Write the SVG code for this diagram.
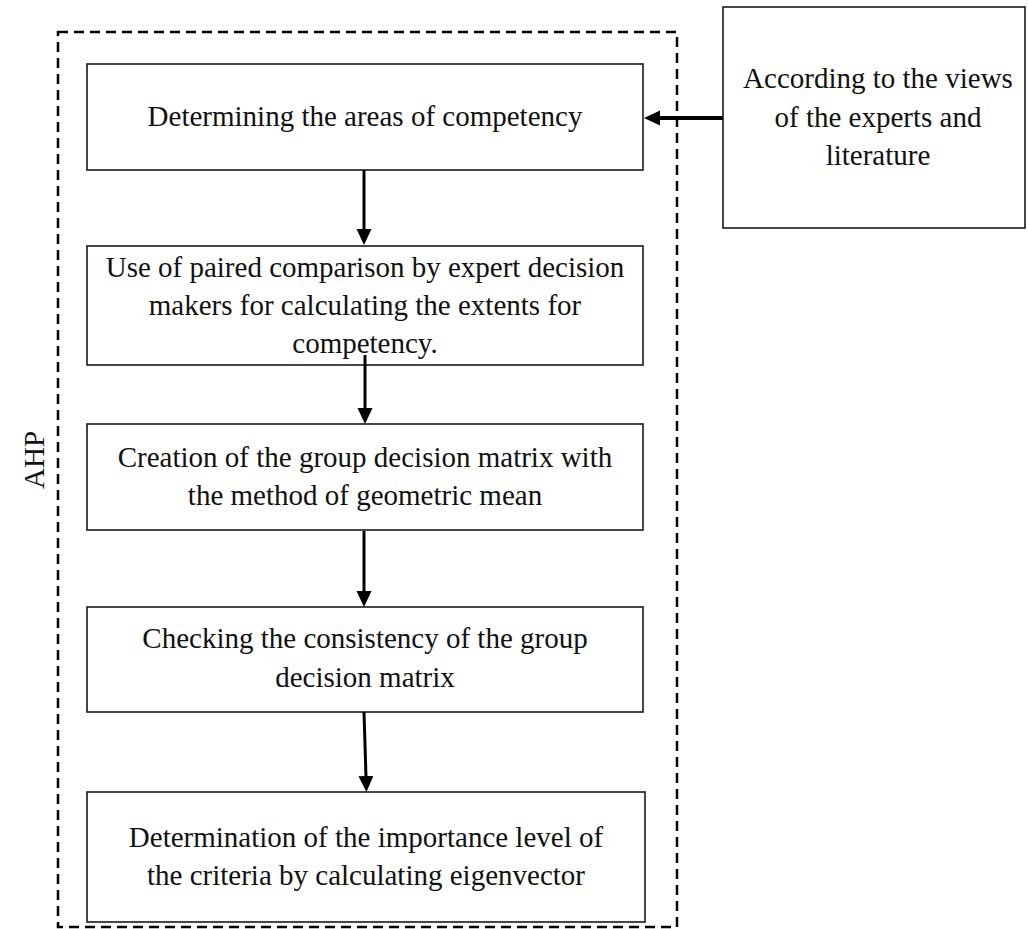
<svg xmlns="http://www.w3.org/2000/svg" width="1028" height="929" viewBox="0 0 1028 929">
<style>
.box{fill:#fff;stroke:#1a1a1a;stroke-width:1.6}
.t{font-family:"Liberation Serif","Times New Roman",serif;font-size:29px;fill:#111;text-anchor:middle}
.c{stroke:#000;stroke-width:3;fill:none}
.dash{fill:none;stroke:#000;stroke-width:2.5;stroke-dasharray:10 6}
</style>
<defs>
<marker id="ah" markerUnits="userSpaceOnUse" markerWidth="17" markerHeight="16" refX="1" refY="7.5" orient="auto">
<path d="M0,0 L16,7.5 L0,15 z" fill="#000"/>
</marker>
</defs>
<rect width="1028" height="929" fill="#fff"/>
<g id="ahp-group">
<rect class="dash" x="58" y="32" width="619" height="895"/>
<text class="t" transform="translate(44,460) rotate(-90)">AHP</text>
</g>
<g id="n1">
<rect class="box" x="87" y="64" width="556" height="106"/>
<text class="t" x="365" y="126">Determining the areas of competency</text>
</g>
<g id="n2">
<rect class="box" x="87" y="246" width="556" height="119"/>
<text class="t" x="365" y="277">Use of paired comparison by expert decision</text>
<text class="t" x="365" y="315">makers for calculating the extents for</text>
<text class="t" x="365" y="353">competency.</text>
</g>
<g id="n3">
<rect class="box" x="87" y="424" width="556" height="106"/>
<text class="t" x="365" y="467">Creation of the group decision matrix with</text>
<text class="t" x="365" y="505">the method of geometric mean</text>
</g>
<g id="n4">
<rect class="box" x="87" y="607" width="556" height="105"/>
<text class="t" x="365" y="648">Checking the consistency of the group</text>
<text class="t" x="365" y="687">decision matrix</text>
</g>
<g id="n5">
<rect class="box" x="87" y="792" width="558" height="130"/>
<text class="t" x="366" y="847">Determination of the importance level of</text>
<text class="t" x="366" y="885">the criteria by calculating eigenvector</text>
</g>
<g id="src">
<rect class="box" x="723" y="7" width="302" height="221"/>
<text class="t" x="878" y="88">According to the views</text>
<text class="t" x="878" y="127">of the experts and</text>
<text class="t" x="878" y="165">literature</text>
</g>
<g id="connectors">
<line class="c" x1="364" y1="170" x2="364" y2="230" marker-end="url(#ah)"/>
<line class="c" x1="365" y1="355" x2="365" y2="409" marker-end="url(#ah)"/>
<line class="c" x1="364" y1="531" x2="364" y2="592" marker-end="url(#ah)"/>
<line class="c" x1="364" y1="712" x2="366" y2="777" marker-end="url(#ah)"/>
<line class="c" style="stroke-width:4" x1="723" y1="118" x2="659" y2="118" marker-end="url(#ah)"/>
</g>
</svg>
